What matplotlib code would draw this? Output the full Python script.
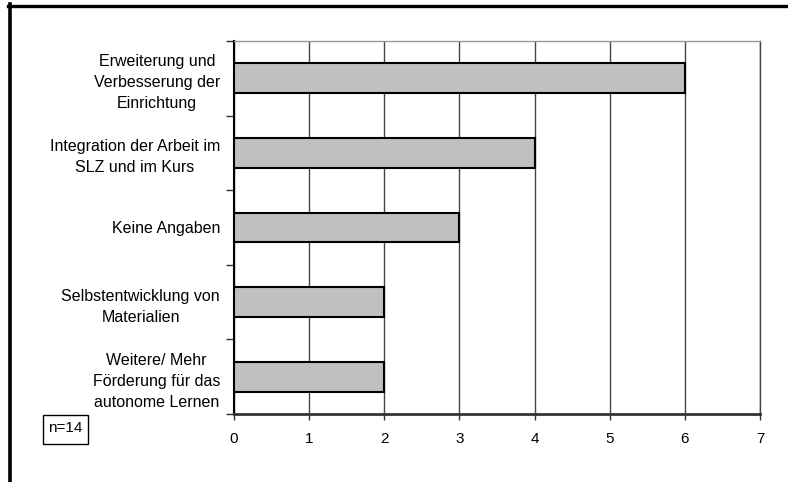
import matplotlib
matplotlib.use("Agg")
import matplotlib.pyplot as plt
from matplotlib.lines import Line2D
from matplotlib.patches import Rectangle
import numpy as np

plt.rcParams['font.family'] = ['Liberation Sans', 'DejaVu Sans']

categories = [
    "Erweiterung und\nVerbesserung der\nEinrichtung",
    "Integration der Arbeit im\nSLZ und im Kurs",
    "Keine Angaben",
    "Selbstentwicklung von\nMaterialien",
    "Weitere/ Mehr\nFörderung für das\nautonome Lernen",
]
values = [6, 4, 3, 2, 2]
xticks = [0, 1, 2, 3, 4, 5, 6, 7]
note = "n=14"

W, H = 788, 482
fig = plt.figure(figsize=(W / 100, H / 100), dpi=100)
ax = fig.add_axes([234 / W, 1 - 414 / H, (760 - 234) / W, (414 - 41) / H])

n = len(categories)
ypos = np.arange(n)
ax.barh(ypos, values, height=0.4, color="#c0c0c0", edgecolor="black", linewidth=1.5, zorder=3)
ax.set_ylim(n - 0.5, -0.5)
ax.set_xlim(0, 7)

ax.set_xticks(xticks)
ax.set_xticklabels([str(t) for t in xticks], fontsize=11)
ax.tick_params(axis="x", direction="out", length=4, width=1, color="#333333", pad=9)
ax.xaxis.grid(True, color="#444444", linewidth=1, zorder=0)

ax.set_yticks(np.arange(n + 1) - 0.5)
ax.set_yticklabels([""] * (n + 1))
ax.tick_params(axis="y", which="major", direction="out", length=6, width=1, color="#333333")
ax.set_yticks(ypos, minor=True)
ax.set_yticklabels(categories, minor=True, fontsize=11.5, multialignment="center", linespacing=1.5)
ax.tick_params(axis="y", which="minor", length=0, pad=10)

ax.spines["left"].set_color("black")
ax.spines["left"].set_linewidth(1.5)
ax.spines["bottom"].set_color("#333333")
ax.spines["bottom"].set_linewidth(2)
ax.spines["top"].set_color("#999999")
ax.spines["top"].set_linewidth(1)
ax.spines["right"].set_color("#444444")
ax.spines["right"].set_linewidth(1)
ax.set_axisbelow(True)

# frame lines
fig.add_artist(Line2D([8 / W, 1], [1 - 5.5 / H, 1 - 5.5 / H], color="black", linewidth=2.4))
fig.add_artist(Line2D([9.5 / W, 9.5 / W], [0, 1 - 4 / H], color="black", linewidth=2.6))

# note box
fig.add_artist(Rectangle((43 / W, 1 - 444 / H), 45 / W, 29 / H, fill=False, edgecolor="black", linewidth=1))
fig.text(65.5 / W, 1 - 427.5 / H, note, ha="center", va="center", fontsize=11)

fig.savefig("out.png", dpi=100)
